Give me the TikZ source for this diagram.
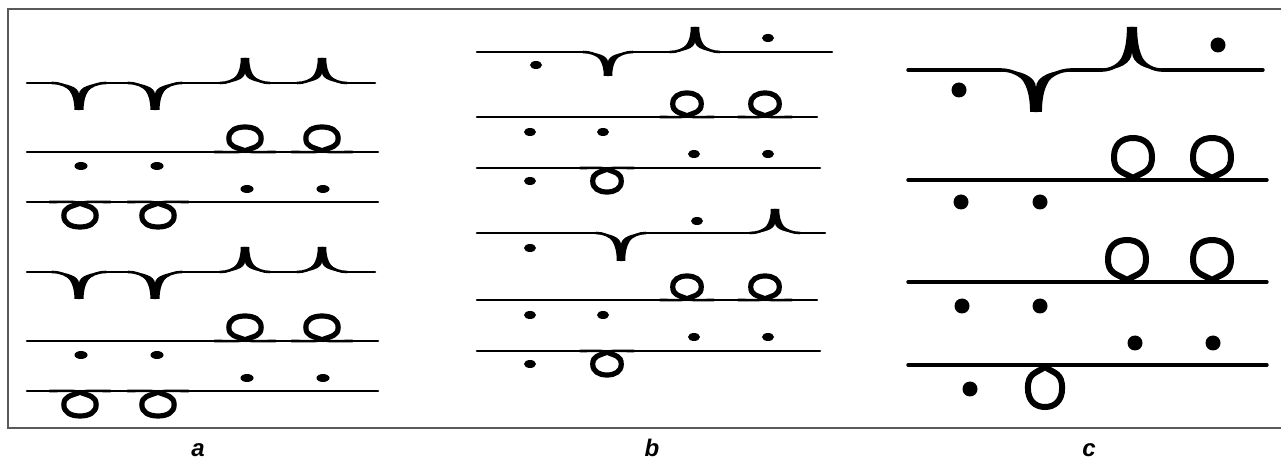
\documentclass[tikz,border=0pt]{standalone}
\usepackage{fontspec}
\setmainfont{Liberation Sans}
\usepackage{tikz}
\tikzset{
  staff line/.style={
    line width=1.3pt,
    line cap=round,
  },
  coil line/.style={
    line width=2.6pt,
  },
  frame line/.style={
    line width=0.8pt,
    draw=black!65,
  },
  panel label/.style={
    anchor=base,
    inner sep=0pt,
    font=\fontsize{12}{14}\selectfont\bfseries\itshape,
  },
  pics/cusp/.style={code={
    \fill (-1,0) .. controls (-0.4,0) and (-0.17,-0.4) .. (-0.17,-1) -- (0.17,-1)
      .. controls (0.17,-0.4) and (0.4,0) .. (1,0)
      .. controls (0.45,0) and (0,-0.15) .. (0,-0.42)
      .. controls (0,-0.15) and (-0.45,0) .. cycle;
    \draw[staff line] (-1,0) .. controls (-0.4,0) and (0,-0.4) .. (0,-1)
      .. controls (0,-0.4) and (0.4,0) .. (1,0);
  }},
  pics/coil/.style={code={
    \draw[staff line] (-1.8,0) .. controls (-0.8,0) and (-0.3,-0.03) .. (0,0.05)
      .. controls (0.3,-0.03) and (0.8,0) .. (1.8,0);
    \draw[coil line] (0,0.05) .. controls (0.55,0.2) and (0.95,0.2) .. (0.95,0.55)
      .. controls (0.95,0.85) and (0.55,1) .. (0,1)
      .. controls (-0.55,1) and (-0.95,0.85) .. (-0.95,0.55)
      .. controls (-0.95,0.2) and (-0.55,0.2) .. (0,0.05);
  }},
}

\begin{document}
\begin{tikzpicture}[x=0.5pt,y=0.5pt]
  \useasboundingbox (0,0) rectangle (1281,461);
  \draw[frame line] (1283,452) -- (8,452) -- (8,33) -- (1283,33);

  % panel a: the same three lines twice
  \foreach \s in {0,189}{
    \begin{scope}[shift={(0,-\s)}]
      \draw[staff line] (27,378) -- (52,378) (106,378) -- (128,378)
        (182,378) -- (220,378) (270,378) -- (297,378) (347,378) -- (375,378);
      \foreach \x in {79,155} \pic[xscale=27,yscale=27] at (\x,378) {cusp};
      \foreach \x in {245,322} \pic[xscale=25,yscale=-25] at (\x,378) {cusp};

      \draw[staff line] (27,309) -- (378,309);
      \foreach \x in {245,322} \pic[xscale=17,yscale=25] at (\x,309) {coil};
      \foreach \x in {81,157} \fill (\x,295) ellipse [x radius=6.5, y radius=4];
      \foreach \x in {247,323} \fill (\x,272) ellipse [x radius=6.5, y radius=4];

      \draw[staff line] (27,259) -- (378,259);
      \foreach \x in {80,158} \pic[xscale=17,yscale=-25] at (\x,259) {coil};
    \end{scope}
  }

  % panel b
  \draw[staff line] (477,409) -- (583,409) (633,409) -- (670,409) (720,409) -- (832,409);
  \pic[xscale=25,yscale=24] at (608,409) {cusp};
  \pic[xscale=25,yscale=-25] at (695,409) {cusp};
  \fill (536,396) ellipse [x radius=6, y radius=4];
  \fill (768,423) ellipse [x radius=6, y radius=4];

  \draw[staff line] (477,228) -- (596,228) (646,228) -- (750,228) (800,228) -- (825,228);
  \pic[xscale=25,yscale=28] at (621,228) {cusp};
  \pic[xscale=25,yscale=-24] at (775,228) {cusp};
  \fill (530,213) ellipse [x radius=6, y radius=4];
  \fill (697,240) ellipse [x radius=6, y radius=4];

  \foreach \s in {0,183}{
    \begin{scope}[shift={(0,-\s)}]
      \draw[staff line] (477,344) -- (817,344);
      \foreach \x in {687,765} \pic[xscale=15,yscale=24] at (\x,344) {coil};
      \foreach \x in {530,603} \fill (\x,329) ellipse [x radius=6, y radius=4];
      \foreach \x in {694,768} \fill (\x,307) ellipse [x radius=6, y radius=4];

      \draw[staff line] (477,293) -- (820,293);
      \pic[xscale=15,yscale=-24] at (607,293) {coil};
      \fill (530,280) ellipse [x radius=6, y radius=4];
    \end{scope}
  }

  % panel c
  \begin{scope}[staff line/.append style={line width=1.7pt}, coil line/.append style={line width=3pt}]
    \draw[staff line] (908,391) -- (1001,391) (1071,391) -- (1102,391) (1162,391) -- (1263,391);
    \pic[xscale=35,yscale=42] at (1036,391) {cusp};
    \pic[xscale=30,yscale=-43] at (1132,391) {cusp};
    \fill (959,371) circle [radius=7.5];
    \fill (1218,416) circle [radius=7.5];

    \draw[staff line] (908,281) -- (1267,281);
    \foreach \x in {1133,1212} \pic[xscale=20,yscale=42] at (\x,281) {coil};
    \foreach \x in {961,1040} \fill (\x,259) circle [radius=7.5];

    \draw[staff line] (908,179) -- (1267,179);
    \foreach \x in {1127,1212} \pic[xscale=20,yscale=42] at (\x,179) {coil};
    \foreach \x in {962,1040} \fill (\x,155) circle [radius=7.5];
    \foreach \x in {1135,1213} \fill (\x,118) circle [radius=7.5];

    \draw[staff line] (908,96) -- (1267,96);
    \pic[xscale=18,yscale=-42] at (1045,96) {coil};
    \fill (970,72) circle [radius=7.5];
  \end{scope}

  \node[panel label] (lbla) at (198,4) {a};
  \node[panel label] (lblb) at (652,4) {b};
  \node[panel label] (lblc) at (1089,4) {c};
\end{tikzpicture}
\end{document}
